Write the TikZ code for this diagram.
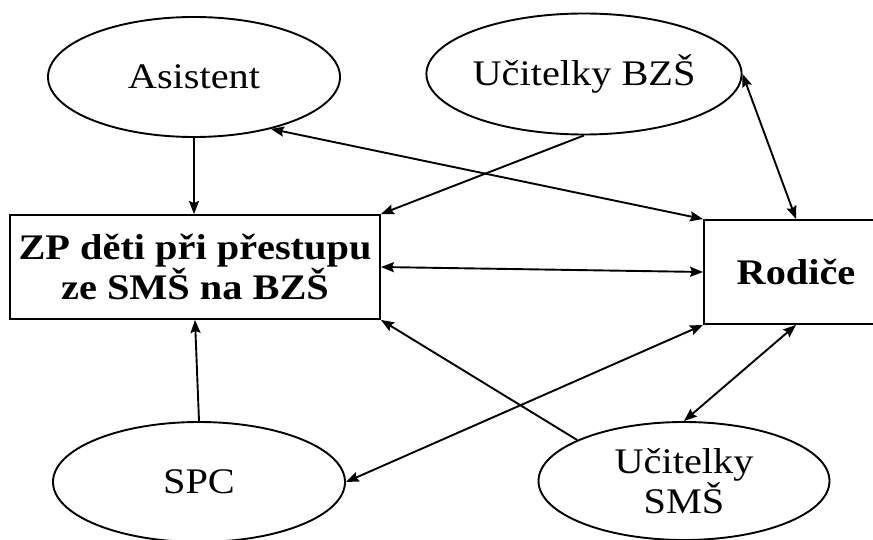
\documentclass[tikz,border=0pt]{standalone}
\usepackage{fontspec}
\setmainfont[FakeStretch=1.12]{Liberation Serif}
\usetikzlibrary{shapes.geometric,arrows.meta}
\tikzset{
  oval/.style={ellipse,draw,line width=1.9pt,minimum width=292pt,minimum height=120pt,inner sep=0pt,
    font=\fontsize{36}{40}\selectfont,align=center},
  box/.style={rectangle,draw,line width=1.9pt,inner sep=0pt,
    font=\fontsize{36}{40}\selectfont\bfseries,align=center},
  conn/.style={line width=1.9pt,-{Stealth[length=13pt,width=10pt,inset=2pt]}},
  biconn/.style={line width=1.9pt,{Stealth[length=13pt,width=10pt,inset=2pt]}-{Stealth[length=13pt,width=10pt,inset=2pt]}}
}
\begin{document}
\begin{tikzpicture}[x=1pt,y=1pt]
\clip (0,0) rectangle (873,539);
\fill[white] (0,0) rectangle (873,539);
\node[oval] (asist) at (194,462) {Asistent};
\node[oval,minimum height=121pt] (ubzs) at (584,465) {Učitelky BZŠ};
\node[box,minimum width=370pt,minimum height=104pt] (zp) at (195,272) {ZP děti při přestupu\\ze SMŠ na BZŠ};
\node[box,minimum width=184pt,minimum height=104pt] (rod) at (796,267) {Rodiče};
\node[oval] (spc) at (199,57) {SPC};
\node[oval,minimum width=291pt,minimum height=118pt] (usms) at (684,58) {Učitelky\\SMŠ};
\draw[conn] (asist.south) -- (asist.south |- zp.north);
\draw[biconn] (rod.north west) -- (asist.-34);
\draw[conn] (ubzs.south) -- (zp.north east);
\draw[biconn] (ubzs.east) -- (rod.north);
\draw[biconn] (zp.east) -- (rod.west);
\draw[conn] (spc.north) -- (zp.south);
\draw[conn] (usms.159) -- (zp.south east);
\draw[biconn] (rod.south west) -- (spc.east);
\draw[biconn] (rod.south) -- (usms.north);
\end{tikzpicture}
\end{document}
